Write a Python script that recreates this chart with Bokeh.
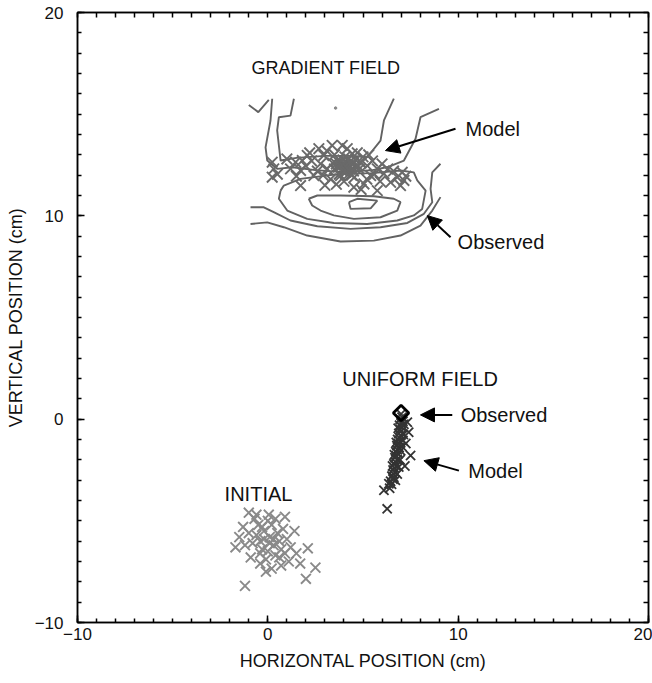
from bokeh.plotting import figure
from bokeh.models import Range1d, LinearAxis, FixedTicker, Arrow, NormalHead
from bokeh.core.properties import value
from bokeh.embed import file_html
from bokeh.resources import INLINE

# ---------------- data ----------------
x_ticks = [-10, 0, 10, 20]
y_ticks = [-10, 0, 10, 20]
minor_steps = list(range(-10, 21))

init_x = [-0.2, 0.1, -0.4, 0.3, 0.0, -0.6, 0.5, -0.3, 0.2, -0.8, 0.6, -0.1, 0.4, -0.5, 0.8, -1.0, 0.1, -0.2, 0.3, -0.4,
          0.7, 0.0, -0.7, 0.4, -1.0, 0.05, -1.3, -1.7, -1.2, 1.0, 1.2, 1.5, 1.1, 0.7, 0.2, -0.4, -0.9, 2.1, 2.5, 2.0,
          -1.2, 1.4, 0.9, -0.6, -1.5, 0.6, -0.1, 1.7, 0.9, -0.3]
init_y = [-5.5, -5.8, -6.0, -6.2, -6.5, -5.7, -5.6, -6.4, -5.2, -6.1, -6.0, -6.9, -6.7, -5.2, -5.4, -5.6, -6.1, -5.9, -5.9, -6.6,
          -6.4, -5.0, -4.9, -4.9, -4.6, -4.7, -5.3, -6.3, -6.2, -5.9, -6.3, -6.6, -7.0, -7.2, -7.35, -7.1, -6.8, -6.35, -7.3, -7.85,
          -8.2, -5.5, -4.8, -4.7, -5.8, -6.8, -7.5, -7.1, -6.6, -5.3]

unif_x = [7.0, 7.05, 6.95, 7.1, 7.0, 6.92, 7.05, 6.95, 7.0, 6.88, 6.98, 6.9, 6.82, 6.95, 6.85, 6.78, 6.9, 6.8, 6.72, 6.85,
          6.75, 6.68, 6.8, 6.7, 6.62, 6.75, 6.65, 6.58, 6.68, 6.6, 6.52, 6.58, 6.45, 6.5,
          7.15, 7.12, 7.1, 7.05, 6.98, 6.95, 6.88, 6.8, 6.7, 6.85, 6.75, 6.65, 6.55,
          6.27, 6.1, 6.36, 6.62, 7.5, 7.4, 7.33, 7.25, 7.2, 6.4]
unif_y = [0.25, 0.1, 0.0, -0.1, -0.2, -0.3, -0.4, -0.5, -0.6, -0.7, -0.8, -0.9, -1.0, -1.1, -1.2, -1.3, -1.4, -1.5, -1.6, -1.7,
          -1.8, -1.9, -2.0, -2.1, -2.2, -2.3, -2.4, -2.5, -2.6, -2.7, -2.8, -2.95, -3.05, -3.2,
          -0.25, -0.75, -1.05, -1.35, -1.55, -2.0, -2.35, -2.7, -3.0, -0.45, -1.15, -1.75, -2.3,
          -4.41, -3.5, -3.18, -2.86, -1.79, -0.64, -0.15, -1.2, -2.3, -3.4]
unif_obs_x = [7.0]
unif_obs_y = [0.3]

grad_x = [4.2, 4.0, 4.4, 3.9, 4.5, 4.1, 4.3, 3.7, 4.6, 4.2, 3.8, 4.5, 4.0, 4.35, 4.1, 3.6, 4.7, 4.25, 3.95, 4.8,
          3.5, 4.4, 4.6, 3.75, 4.05, 4.9, 3.4, 4.3, 4.15, 3.85,
          0.23, 0.31, 0.23, 2.68, 3.38, 3.91, 4.17, 2.07, 1.81, 1.46, 1.19, 1.72, 1.72, 2.42, 3.12, 3.82, 4.52, 5.05, 5.4, 5.75,
          6.1, 6.45, 6.8, 7.06, 7.15, 6.97, 5.75, 4.87, 5.22, 4.43, 3.65, 2.77, 2.94, 3.1, 4.7, 5.0, 5.5, 2.3, 2.6, 3.3,
          4.0, 5.2, 6.3, 5.9, 3.0, 2.0, 1.0, 2.2, 5.6, 6.6, 7.25, 3.5, 4.9, 3.6, 2.9, 0.5, 1.5, 6.0, 5.3, 4.55]
grad_y = [12.4, 12.5, 12.3, 12.2, 12.6, 12.7, 12.1, 12.4, 12.4, 12.55, 12.6, 12.2, 12.3, 12.45, 12.15, 12.55, 12.5, 12.8, 12.75, 12.3,
          12.3, 12.0, 12.75, 12.05, 12.9, 12.6, 12.6, 12.65, 12.35, 12.45,
          12.64, 12.31, 11.9, 13.3, 13.46, 13.46, 13.3, 12.97, 12.72, 12.64, 12.31, 12.23, 11.49, 11.98, 12.31, 11.98, 11.41, 11.57, 11.98, 12.31,
          12.07, 11.65, 11.9, 12.14, 11.74, 11.49, 11.24, 12.64, 12.47, 13.05, 12.72, 12.56, 12.97, 13.2, 13.1, 12.9, 12.7, 12.7, 12.2, 11.8,
          11.7, 11.8, 12.3, 11.7, 11.5, 12.45, 12.8, 13.1, 12.05, 12.2, 11.95, 13.0, 11.3, 11.55, 12.0, 12.05, 11.95, 12.55, 13.0, 11.9]

# observed contours (gradient field)
cont_x = [
    [-1.0, -0.5, 0.05],
    [0.23, 0.14, -0.12, -0.03, 0.49, 1.28, 2.5, 4.0, 5.5, 6.3, 7.15, 7.76, 8.02, 8.99],
    [1.37, 1.19, 0.58, 0.49, 0.6, 0.67, 1.5, 3.0, 4.5, 5.22, 5.92, 6.1, 6.62],
    [4.26, 4.35, 5.40, 5.75, 4.70, 4.26],
    [2.15, 2.33, 2.77, 3.47, 4.52, 5.92, 6.80, 6.97, 6.62, 5.57, 3.82, 2.60, 2.15],
    [0.67, 0.58, 1.02, 2.07, 3.47, 5.22, 6.8, 7.67, 8.11, 8.29, 7.85, 7.67, 6.97, 5.5, 3.82, 1.72, 0.84, 0.67],
    [-0.91, -0.21, 0.31, 1.19, 2.60, 4.35, 5.92, 7.33, 8.2, 8.64, 8.55, 8.64, 9.07],
    [-0.91, -0.03, 0.84, 2.07, 3.82, 5.57, 6.97, 8.02, 8.64, 9.07],
]
cont_y = [
    [15.45, 15.1, 15.7],
    [15.76, 14.69, 13.37, 12.72, 12.31, 12.39, 12.25, 12.15, 12.25, 12.4, 12.72, 13.79, 14.85, 15.26],
    [15.76, 14.93, 14.85, 14.2, 13.3, 12.72, 12.85, 12.95, 12.95, 12.88, 13.7, 14.69, 15.76],
    [10.67, 10.34, 10.37, 10.75, 10.84, 10.67],
    [10.84, 10.51, 10.26, 10.02, 9.85, 9.93, 10.26, 10.67, 10.84, 10.96, 11.0, 11.0, 10.84],
    [11.24, 10.84, 10.26, 9.85, 9.65, 9.60, 9.77, 10.02, 10.34, 11.24, 11.74, 12.14, 12.23, 12.1, 12.07, 11.82, 11.49, 11.24],
    [10.42, 10.42, 10.18, 9.77, 9.49, 9.36, 9.44, 9.65, 10.1, 10.67, 11.33, 12.14, 12.56],
    [9.6, 9.68, 9.44, 9.03, 8.74, 8.78, 9.03, 9.52, 10.26, 10.92],
]
dot_x = [3.56]
dot_y = [15.3]

# annotations
title_text = ["GRADIENT FIELD"]
title_x = [3.05]
title_y = [17.25]
label_text = ["UNIFORM FIELD", "INITIAL"]
label_x = [8.0, -0.49]
label_y = [2.0, -3.66]
note_text = ["Model", "Observed", "Observed", "Model"]
note_x = [10.39, 9.97, 10.13, 10.53]
note_y = [14.29, 8.69, 0.21, -2.53]
arrow_x0 = [9.86, 9.6, 9.69, 10.04]
arrow_y0 = [14.28, 8.95, 0.21, -2.53]
arrow_x1 = [6.18, 8.38, 8.02, 8.2]
arrow_y1 = [13.21, 10.01, 0.21, -2.04]

FONT = "Liberation Sans"

# ---------------- figure ----------------
p = figure(width=652, height=683, output_backend="svg", toolbar_location=None,
           x_range=Range1d(-10, 20), y_range=Range1d(-10, 20),
           min_border_left=77, min_border_right=4, min_border_top=12, min_border_bottom=61)
p.grid.visible = False
p.outline_line_color = "black"
p.outline_line_width = 1.5
p.background_fill_color = "white"
p.border_fill_color = "white"


def style_axis(ax):
    ax.major_tick_in = 7
    ax.major_tick_out = 0
    ax.minor_tick_in = 4
    ax.minor_tick_out = 0
    ax.axis_line_color = "black"
    ax.axis_line_width = 1.5
    ax.major_tick_line_width = 1.5
    ax.minor_tick_line_width = 1.5
    ax.major_tick_line_color = "black"
    ax.minor_tick_line_color = "black"
    ax.major_label_text_font = FONT
    ax.major_label_text_font_size = "17px"
    ax.major_label_text_color = "#111111"
    ax.axis_label_text_font = FONT
    ax.axis_label_text_font_size = "18px"
    ax.axis_label_text_font_style = "normal"
    ax.axis_label_text_color = "#111111"


style_axis(p.xaxis[0])
style_axis(p.yaxis[0])
p.xaxis[0].ticker = FixedTicker(ticks=x_ticks, minor_ticks=minor_steps)
p.yaxis[0].ticker = FixedTicker(ticks=y_ticks, minor_ticks=minor_steps)
p.xaxis[0].axis_label = "HORIZONTAL POSITION (cm)"
p.yaxis[0].axis_label = "VERTICAL POSITION (cm)"
p.xaxis[0].major_label_standoff = 5
p.xaxis[0].axis_label_standoff = 8
p.yaxis[0].major_label_standoff = 14
p.yaxis[0].axis_label_standoff = 6

# top and right: tick marks only (no labels)
for side in ("above", "right"):
    ax = LinearAxis(ticker=FixedTicker(ticks=[], minor_ticks=minor_steps))
    style_axis(ax)
    ax.minor_tick_in = 5
    p.add_layout(ax, side)

# contours
p.multi_line(cont_x, cont_y, line_color="#626262", line_width=1.9)
p.scatter(dot_x, dot_y, size=2.5, color="#888888")

# crosses
p.scatter(grad_x, grad_y, marker="x", size=15, line_color="#6a6a6a", line_width=1.9)
p.scatter(init_x, init_y, marker="x", size=14, line_color="#8a8a8a", line_width=1.9)
p.scatter(unif_x, unif_y, marker="x", size=13, line_color="#333333", line_width=1.8)
p.scatter(unif_obs_x, unif_obs_y, marker="square", angle=0.7854, size=11, fill_color=None,
          line_color="black", line_width=2.8)

# labels
p.text(title_x, title_y, text=title_text, text_font=value(FONT), text_font_size="18px",
       text_align="center", text_baseline="middle", text_color="#111111")
p.text(label_x, label_y, text=label_text, text_font=value(FONT), text_font_size="20px",
       text_align="center", text_baseline="middle", text_color="#111111")
p.text(note_x, note_y, text=note_text, text_font=value(FONT), text_font_size="20px",
       text_align="left", text_baseline="middle", text_color="#111111")

for i in range(len(arrow_x0)):
    p.add_layout(Arrow(end=NormalHead(size=14, fill_color="black", line_color="black"),
                       x_start=arrow_x0[i], y_start=arrow_y0[i],
                       x_end=arrow_x1[i], y_end=arrow_y1[i],
                       line_color="black", line_width=2))

open("out.html", "w").write(file_html(p, INLINE))
